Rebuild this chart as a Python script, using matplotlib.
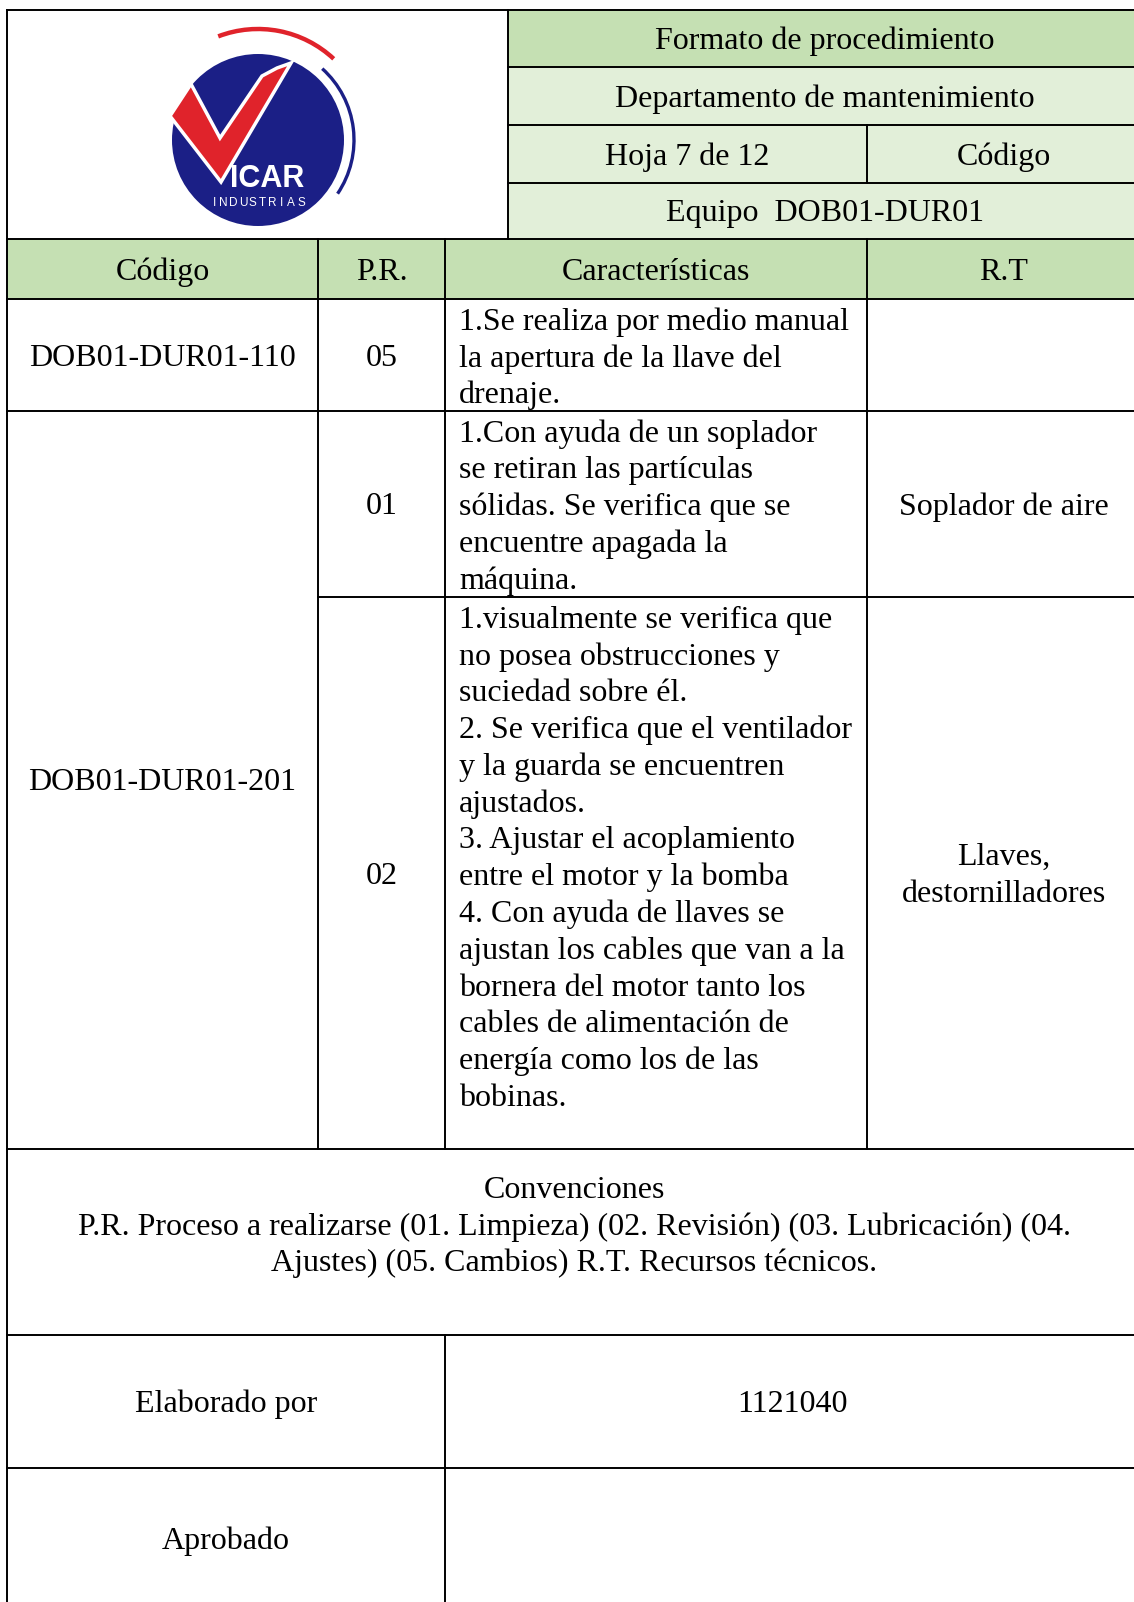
import matplotlib
matplotlib.use("Agg")
import matplotlib.pyplot as plt
from matplotlib.patches import Rectangle, Circle, Arc, Polygon
import numpy as np

# ---- content of the form ----
header_title = "Formato de procedimiento"
header_dept = "Departamento de mantenimiento"
header_sheet = "Hoja 7 de 12"
header_code = "Código"
header_equipo = "Equipo  DOB01-DUR01"
col_headers = ["Código", "P.R.", "Características", "R.T"]
row_codes = ["DOB01-DUR01-110", "DOB01-DUR01-201"]
row_pr = ["05", "01", "02"]
row_caract = [
    ["1.Se realiza por medio manual", "la apertura de la llave del", "drenaje."],
    ["1.Con ayuda de un soplador", "se retiran las partículas",
     "sólidas. Se verifica que se", "encuentre apagada la", "máquina."],
    ["1.visualmente se verifica que", "no posea obstrucciones y",
     "suciedad sobre él.", "2. Se verifica que el ventilador",
     "y la guarda se encuentren", "ajustados.", "3. Ajustar el acoplamiento",
     "entre el motor y la bomba", "4. Con ayuda de llaves se",
     "ajustan los cables que van a la", "bornera del motor tanto los",
     "cables de alimentación de", "energía como los de las", "bobinas."],
]
row_rt = [[], ["Soplador de aire"], ["Llaves,", "destornilladores"]]
conventions = ["Convenciones",
               "P.R. Proceso a realizarse (01. Limpieza) (02. Revisión) (03. Lubricación) (04.",
               "Ajustes) (05. Cambios) R.T. Recursos técnicos."]
footer_labels = ["Elaborado por", "Aprobado"]
footer_values = ["1121040", ""]

plt.rcParams['font.family'] = ['Liberation Serif', 'DejaVu Serif']

dark_green = '#C5E0B3'
light_green = '#E2EFD9'
navy = '#1B1F86'
red = '#E0232B'
FS = 23
PITCH = 36.8
DY = 3  # text sits a little below the geometric centre

# grid (pixel coordinates)
xs = [7, 318, 445, 867, 1141]
x_logo = 508
hy = [10, 67, 125, 183, 239]
ry = [239, 299, 411, 597, 1149, 1335, 1468, 1609]

fig = plt.figure(figsize=(11.34, 16.02), dpi=100)
ax = fig.add_axes([0, 0, 1, 1])
ax.set_xlim(0, 1134)
ax.set_ylim(1602, 0)
ax.axis('off')


def put_lines(x, y0, lines, ha='center'):
    for i, s in enumerate(lines):
        ax.text(x, y0 + DY + i * PITCH, s, ha=ha, va='center', fontsize=FS, zorder=3)


def put_centered(x, yc, lines):
    put_lines(x, yc - (len(lines) - 1) * PITCH / 2, lines)


# fills
ax.add_patch(Rectangle((x_logo, hy[0]), xs[4] - x_logo, hy[1] - hy[0], fc=dark_green, ec='none', zorder=0))
for i in (1, 2, 3):
    ax.add_patch(Rectangle((x_logo, hy[i]), xs[4] - x_logo, hy[i + 1] - hy[i], fc=light_green, ec='none', zorder=0))
ax.add_patch(Rectangle((xs[0], ry[0]), xs[4] - xs[0], ry[1] - ry[0], fc=dark_green, ec='none', zorder=0))

# lines
lw = 1.4
for y in [hy[0], ry[0], ry[1], ry[2], ry[4], ry[5], ry[6]]:
    ax.plot([xs[0], xs[4]], [y, y], color='black', lw=lw, zorder=2)
ax.plot([xs[1], xs[4]], [ry[3], ry[3]], color='black', lw=lw, zorder=2)
for y in hy[1:4]:
    ax.plot([x_logo, xs[4]], [y, y], color='black', lw=lw, zorder=2)
ax.plot([xs[0], xs[0]], [hy[0], ry[7]], color='black', lw=lw, zorder=2)
ax.plot([xs[4], xs[4]], [hy[0], ry[7]], color='black', lw=lw, zorder=2)
ax.plot([x_logo, x_logo], [hy[0], hy[4]], color='black', lw=lw, zorder=2)
ax.plot([xs[3], xs[3]], [hy[2], hy[3]], color='black', lw=lw, zorder=2)
for x in xs[1:4]:
    ax.plot([x, x], [ry[0], ry[4]], color='black', lw=lw, zorder=2)
ax.plot([xs[2], xs[2]], [ry[5], ry[7]], color='black', lw=lw, zorder=2)

# header texts
mid = lambda a, b: (a + b) / 2
put_centered(mid(x_logo, xs[4]), mid(hy[0], hy[1]), [header_title])
put_centered(mid(x_logo, xs[4]), mid(hy[1], hy[2]), [header_dept])
put_centered(mid(x_logo, xs[3]), mid(hy[2], hy[3]), [header_sheet])
put_centered(mid(xs[3], xs[4]), mid(hy[2], hy[3]), [header_code])
put_centered(mid(x_logo, xs[4]), mid(hy[3], hy[4]), [header_equipo])
for j, h in enumerate(col_headers):
    put_centered(mid(xs[j], xs[j + 1]), mid(ry[0], ry[1]), [h])

# body rows
put_centered(mid(xs[0], xs[1]), mid(ry[1], ry[2]), [row_codes[0]])
put_centered(mid(xs[0], xs[1]), mid(ry[2], ry[4]), [row_codes[1]])
for k in range(3):
    top, bot = ry[1 + k], ry[2 + k]
    put_centered(mid(xs[1], xs[2]), mid(top, bot), [row_pr[k]])
    put_lines(xs[2] + 14, top + 20, row_caract[k], ha='left')
    if row_rt[k]:
        put_centered(mid(xs[3], xs[4]), mid(top, bot), row_rt[k])

# conventions and footer
put_lines(mid(xs[0], xs[4]), ry[4] + 38, conventions)
for k in range(2):
    yc = mid(ry[5 + k], ry[6 + k])
    put_centered(mid(xs[0], xs[2]), yc, [footer_labels[k]])
    if footer_values[k]:
        put_centered(mid(xs[2], xs[4]), yc, [footer_values[k]])

# logo
cx, cy = 258, 140
ax.add_patch(Circle((cx, cy), 86, fc=navy, ec='none', zorder=1))
ax.add_patch(Arc((cx, cy), 222, 222, theta1=-111, theta2=-47, color=red, lw=3.2, zorder=1))
ax.add_patch(Arc((cx, cy), 192, 192, theta1=-48, theta2=34, color=navy, lw=2.4, zorder=1))
v_pts = [(170, 116), (191, 84), (220, 138), (262, 76), (277, 68), (291, 63), (221, 182)]
ax.add_patch(Polygon(v_pts, closed=True, fc=red, ec='white', lw=2.5, joinstyle='miter', zorder=1.5))
ax.text(267, 179, "ICAR", ha='center', va='center', color='white', fontsize=22,
        fontweight='bold', family='Liberation Sans', zorder=1.6)
for x, ch in zip(np.linspace(214, 301, 10), "INDUSTRIAS"):
    ax.text(x, 203, ch, ha='center', va='center', color='white', fontsize=8.5,
            family='Liberation Sans', zorder=1.6)

fig.savefig("out.png", dpi=100)
